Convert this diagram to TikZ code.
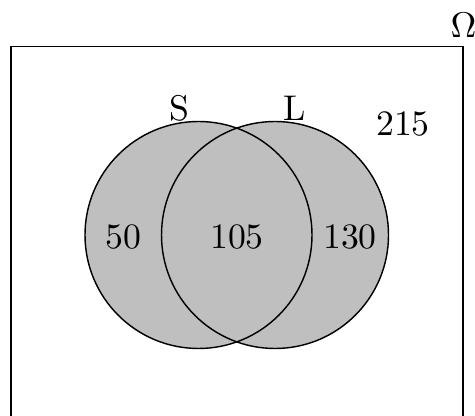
\documentclass[tikz,border=0pt]{standalone}
\begin{document}
\begin{tikzpicture}[x=0.28pt,y=-0.28pt,
  setfill/.style={fill=lightgray},
  setline/.style={draw=black, line width=0.4pt},
  lbl/.style={inner sep=0pt, font=\normalsize}]
  \useasboundingbox (0,0) rectangle (475,416);
  \clip (0,0) rectangle (475,416);
  % universe
  \draw[line width=0.45pt] (11,46.5) rectangle (463,440);
  \node[lbl] (omega) at (463.5,25) {$\Omega$};
  % the two sets
  \fill[setfill] (198.5,235) circle [radius=113.5];
  \fill[setfill] (275,235) circle [radius=113.5];
  \draw[setline] (198.5,235) circle [radius=113.5];
  \draw[setline] (275,235) circle [radius=113.5];
  % set names
  \node[lbl] (S) at (179,108) {S};
  \node[lbl] (L) at (295,108) {L};
  % region counts
  \node[lbl] (outside) at (403,124) {215};
  \node[lbl] (onlyS) at (123,237) {50};
  \node[lbl] (both) at (237,237) {105};
  \node[lbl] (onlyL) at (350,237) {130};
\end{tikzpicture}
\end{document}
